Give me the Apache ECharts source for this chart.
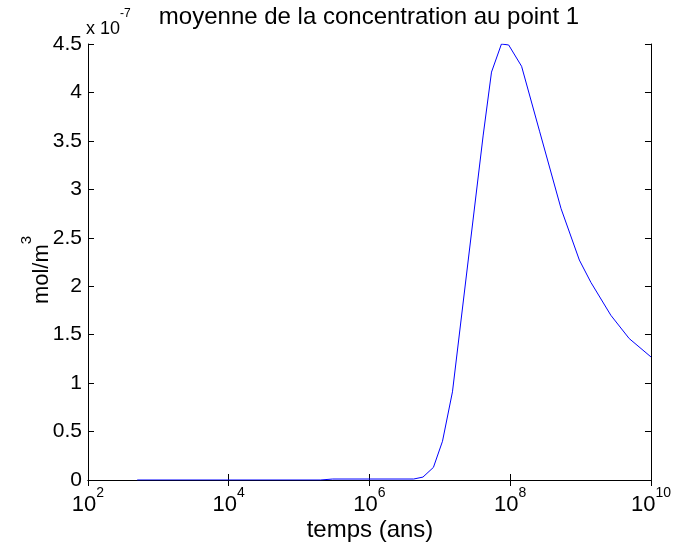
<!DOCTYPE html>
<html>
<head>
<meta charset="utf-8">
<script src="https://cdn.jsdelivr.net/npm/echarts@6/dist/echarts.min.js"></script>
<style>
html,body{margin:0;padding:0;background:#fff;}
#c{width:674px;height:549px;}
</style>
</head>
<body>
<div id="c"></div>
<script>
// time in years (log axis)
var timeYears = [500, 2e5, 3e5, 4.25e6, 5.75e6, 8.1e6, 1.09e7, 1.51e7, 4.13e7, 5.42e7, 7.5e7, 9.5e7, 1.45e8, 2.61e8, 5.28e8, 9.6e8, 1.4e9, 2.69e9, 4.9e9, 1e10];
// concentration in units of 1e-7 mol/m^3
var concentration = [0, 0, 0.01, 0.01, 0.03, 0.13, 0.40, 0.91, 3.56, 4.21, 4.50, 4.49, 4.27, 3.60, 2.80, 2.27, 2.04, 1.70, 1.46, 1.27];
var yTicks = [0, 0.5, 1, 1.5, 2, 2.5, 3, 3.5, 4, 4.5];
var xTickExponents = [2, 4, 6, 8, 10];

var titleText = 'moyenne de la concentration au point 1';
var xLabel = 'temps (ans)';
var yLabelBase = 'mol/m';
var yLabelSup = '3';
var scaleBase = 'x 10';
var scaleSup = '-7';

var FONT = '"Liberation Sans", Arial, Helvetica, sans-serif';

var data = timeYears.map(function (t, i) { return [t, concentration[i]]; });

var chart = echarts.init(document.getElementById('c'), null, {renderer: 'canvas'});

var axisLineStyle = {color: '#000', width: 1};

chart.setOption({
  animation: false,
  backgroundColor: '#fff',
  grid: {left: 88, right: 20, top: 44, bottom: 69, containLabel: false},
  xAxis: [{
    type: 'log', logBase: 10, min: 100, max: 1e10, interval: 2,
    position: 'bottom',
    axisLine: {show: true, lineStyle: axisLineStyle},
    axisTick: {show: true, inside: true, length: 6, lineStyle: axisLineStyle},
    minorTick: {show: false},
    splitLine: {show: false},
    axisLabel: {
      show: true, margin: 6,
      formatter: function (v) {
        var e = Math.round(Math.log10(v));
        if (xTickExponents.indexOf(e) < 0) return '';
        return '{b|10}{s|' + e + '}';
      },
      rich: {
        b: {fontFamily: FONT, fontSize: 22, color: '#000', verticalAlign: 'bottom', lineHeight: 30},
        s: {fontFamily: FONT, fontSize: 14, color: '#000', verticalAlign: 'top', lineHeight: 30}
      }
    }
  }, {
    type: 'log', logBase: 10, min: 100, max: 1e10, interval: 2,
    position: 'top',
    axisLine: {show: true, lineStyle: axisLineStyle},
    axisTick: {show: true, inside: true, length: 6, lineStyle: axisLineStyle},
    splitLine: {show: false},
    axisLabel: {show: false}
  }],
  yAxis: [{
    type: 'value', min: 0, max: 4.5, interval: 0.5,
    position: 'left',
    axisLine: {show: true, lineStyle: axisLineStyle},
    axisTick: {show: true, inside: true, length: 6, lineStyle: axisLineStyle},
    splitLine: {show: false},
    axisLabel: {
      show: true, margin: 6, color: '#000', fontFamily: FONT, fontSize: 21,
      formatter: function (v) { return String(Math.round(v * 10) / 10); }
    }
  }, {
    type: 'value', min: 0, max: 4.5, interval: 0.5,
    position: 'right',
    axisLine: {show: true, lineStyle: axisLineStyle},
    axisTick: {show: true, inside: true, length: 6, lineStyle: axisLineStyle},
    splitLine: {show: false},
    axisLabel: {show: false}
  }],
  series: [{
    type: 'line',
    xAxisIndex: 0, yAxisIndex: 0,
    data: data,
    showSymbol: false,
    symbol: 'none',
    lineStyle: {color: '#0000ff', width: 1},
    clip: true
  }],
  graphic: [
    {
      type: 'text', x: 369, y: 17,
      style: {text: titleText, fill: '#000', font: '24px ' + FONT, align: 'center', verticalAlign: 'middle'}
    },
    {
      type: 'text', x: 86, y: 8,
      style: {
        text: '{b|' + scaleBase + '}{s|' + scaleSup + '}',
        rich: {
          b: {fontFamily: FONT, fontSize: 18, fill: '#000', verticalAlign: 'bottom', lineHeight: 30},
          s: {fontFamily: FONT, fontSize: 12, fill: '#000', verticalAlign: 'top', lineHeight: 30}
        },
        align: 'left', verticalAlign: 'top'
      }
    },
    {
      type: 'text', x: 36, y: 270, rotation: Math.PI / 2,
      style: {
        text: '{b|' + yLabelBase + '}{s|' + yLabelSup + '}',
        rich: {
          b: {fontFamily: FONT, fontSize: 22, fill: '#000', verticalAlign: 'bottom', lineHeight: 34},
          s: {fontFamily: FONT, fontSize: 15, fill: '#000', verticalAlign: 'top', lineHeight: 34}
        },
        align: 'center', verticalAlign: 'middle'
      }
    },
    {
      type: 'text', x: 370, y: 530,
      style: {text: xLabel, fill: '#000', font: '24px ' + FONT, align: 'center', verticalAlign: 'middle'}
    }
  ]
});
</script>
</body>
</html>
